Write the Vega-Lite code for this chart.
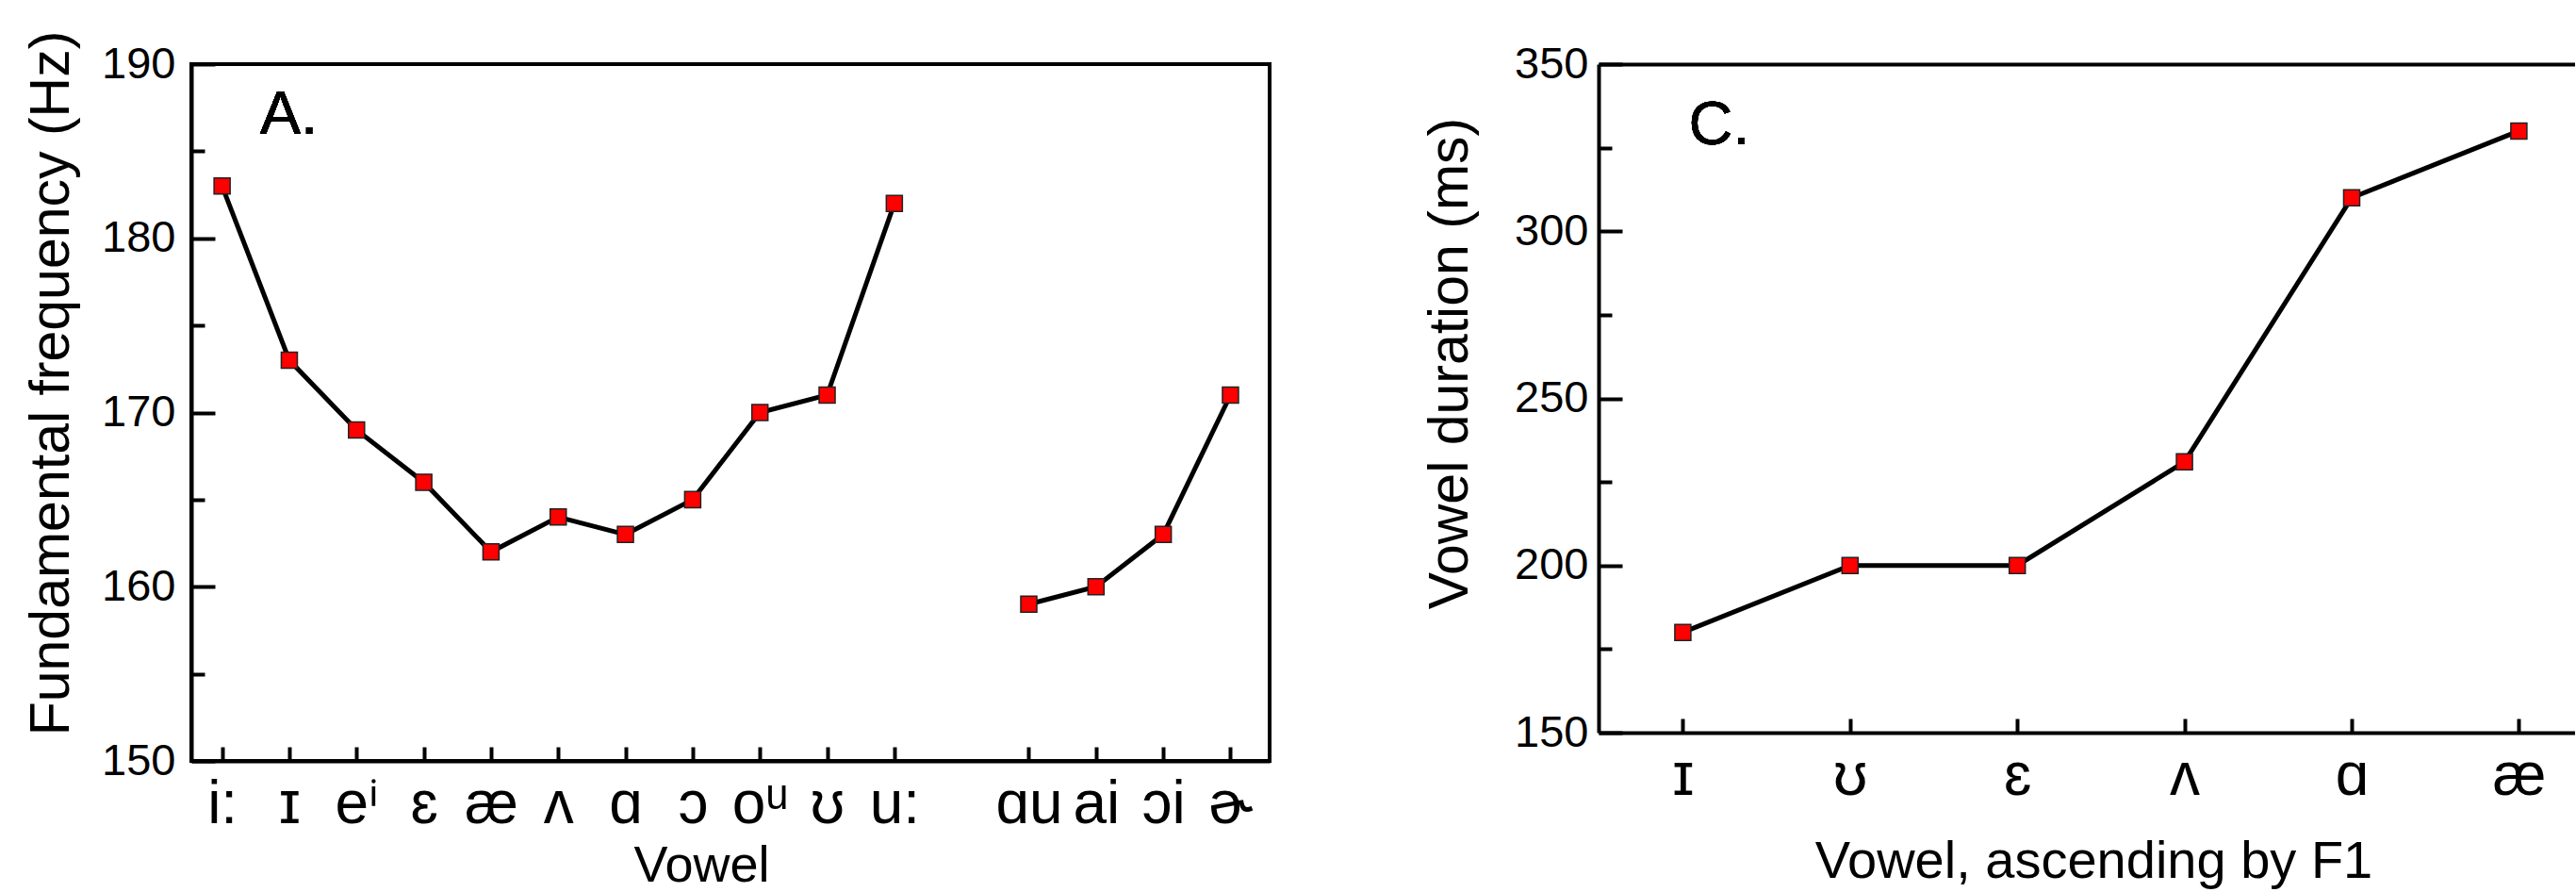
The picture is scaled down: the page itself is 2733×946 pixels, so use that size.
{
  "$schema": "https://vega.github.io/schema/vega-lite/v6.json",
  "background": "white",
  "padding": {"left": 22, "top": 30, "right": 0, "bottom": 0},
  "spacing": 160,
  "config": {
    "font": "Liberation Sans",
    "view": {"stroke": "black", "strokeWidth": 4},
    "axis": {
      "grid": false,
      "domainColor": "black",
      "domainWidth": 4,
      "tickColor": "black",
      "tickWidth": 4,
      "labelColor": "black",
      "titleColor": "black",
      "labelFont": "Liberation Sans",
      "titleFont": "Liberation Sans",
      "titleFontWeight": "normal"
    }
  },
  "datasets": {
    "pitch": [
      {"vowel": "i:", "set": "monophthong", "f0": 183},
      {"vowel": "ɪ", "set": "monophthong", "f0": 173},
      {"vowel": "eⁱ", "set": "monophthong", "f0": 169},
      {"vowel": "ɛ", "set": "monophthong", "f0": 166},
      {"vowel": "æ", "set": "monophthong", "f0": 162},
      {"vowel": "ʌ", "set": "monophthong", "f0": 164},
      {"vowel": "ɑ", "set": "monophthong", "f0": 163},
      {"vowel": "ɔ", "set": "monophthong", "f0": 165},
      {"vowel": "oᵘ", "set": "monophthong", "f0": 170},
      {"vowel": "ʊ", "set": "monophthong", "f0": 171},
      {"vowel": "u:", "set": "monophthong", "f0": 182},
      {"vowel": "ɑu", "set": "diphthong", "f0": 159},
      {"vowel": "ai", "set": "diphthong", "f0": 160},
      {"vowel": "ɔi", "set": "diphthong", "f0": 163},
      {"vowel": "ɚ", "set": "diphthong", "f0": 171}
    ],
    "duration": [
      {"vowel": "ɪ", "ms": 180},
      {"vowel": "ʊ", "ms": 200},
      {"vowel": "ɛ", "ms": 200},
      {"vowel": "ʌ", "ms": 231},
      {"vowel": "ɑ", "ms": 310},
      {"vowel": "æ", "ms": 330}
    ]
  },
  "hconcat": [
    {
      "width": 1144,
      "height": 739,
      "data": {"name": "pitch"},
      "layer": [
        {
          "mark": {"type": "line", "color": "black", "strokeWidth": 5},
          "encoding": {
            "x": {
              "field": "vowel",
              "type": "ordinal",
              "scale": {
                "type": "point",
                "domain": ["i:", "ɪ", "eⁱ", "ɛ", "æ", "ʌ", "ɑ", "ɔ", "oᵘ", "ʊ", "u:", " ", "ɑu", "ai", "ɔi", "ɚ"],
                "padding": 0.52,
                "align": 0.44
              },
              "axis": {
                "title": "Vowel",
                "values": ["i:", "ɪ", "eⁱ", "ɛ", "æ", "ʌ", "ɑ", "ɔ", "oᵘ", "ʊ", "u:", "ɑu", "ai", "ɔi", "ɚ"],
                "labelAngle": 0,
                "labelFontSize": 64,
                "tickSize": -15,
                "labelPadding": 29,
                "titleFontSize": 54,
                "titleBaseline": "alphabetic",
                "titleX": 541,
                "titleY": 127
              }
            },
            "y": {
              "field": "f0",
              "type": "quantitative",
              "scale": {"domain": [150, 190], "nice": false, "zero": false},
              "axis": {
                "title": "Fundamental frequency (Hz)",
                "values": [150, 155, 160, 165, 170, 175, 180, 185, 190],
                "labelExpr": "datum.value % 10 === 0 ? datum.label : ''",
                "tickSize": {"condition": {"test": "datum.value % 10 !== 0", "value": -14}, "value": -25},
                "labelPadding": 42,
                "labelFontSize": 47,
                "titleFontSize": 59,
                "titleBaseline": "alphabetic",
                "titleX": -131,
                "titleY": 338
              }
            },
            "detail": {"field": "set"},
            "order": {"value": null}
          }
        },
        {
          "mark": {"type": "point", "shape": "square", "filled": true, "fill": "red", "stroke": "#222222", "strokeWidth": 1.5, "size": 290, "opacity": 1},
          "encoding": {
            "x": {"field": "vowel", "type": "ordinal"},
            "y": {"field": "f0", "type": "quantitative"}
          }
        },
        {
          "mark": {"type": "text", "text": "A.", "fontSize": 65, "align": "left", "baseline": "alphabetic", "dx": 40, "color": "black"},
          "encoding": {
            "x": {"datum": "i:", "type": "ordinal"},
            "y": {"datum": 186, "type": "quantitative"}
          }
        }
      ]
    },
    {
      "width": 1036,
      "height": 709,
      "view": {"stroke": null},
      "data": {"name": "duration"},
      "resolve": {"axis": {"x": "independent"}},
      "layer": [
        {
          "mark": {"type": "line", "color": "black", "strokeWidth": 5},
          "encoding": {
            "x": {
              "field": "vowel",
              "type": "ordinal",
              "scale": {
                "type": "point",
                "domain": ["ɪ", "ʊ", "ɛ", "ʌ", "ɑ", "æ"],
                "padding": 0.42,
                "align": 0.6
              },
              "axis": {
                "title": "Vowel, ascending by F1",
                "labelAngle": 0,
                "labelFontSize": 64,
                "tickSize": -15,
                "labelPadding": 29,
                "titleFontSize": 56,
                "titleBaseline": "alphabetic",
                "titleX": 525,
                "titleY": 153
              }
            },
            "y": {
              "field": "ms",
              "type": "quantitative",
              "scale": {"domain": [150, 350], "nice": false, "zero": false},
              "axis": {
                "title": "Vowel duration (ms)",
                "values": [150, 175, 200, 225, 250, 275, 300, 325, 350],
                "labelExpr": "datum.value % 50 === 0 ? datum.label : ''",
                "tickSize": {"condition": {"test": "datum.value % 50 !== 0", "value": -14}, "value": -25},
                "labelPadding": 36,
                "labelFontSize": 47,
                "titleFontSize": 59,
                "titleBaseline": "alphabetic",
                "titleX": -140,
                "titleY": 317
              }
            },
            "order": {"value": null}
          }
        },
        {
          "mark": {"type": "point", "shape": "square", "filled": true, "fill": "red", "stroke": "#222222", "strokeWidth": 1.5, "size": 290, "opacity": 1},
          "encoding": {
            "x": {"field": "vowel", "type": "ordinal", "axis": null},
            "y": {"field": "ms", "type": "quantitative"}
          }
        },
        {
          "mark": {"type": "text", "text": "C.", "fontSize": 65, "align": "left", "baseline": "alphabetic", "dx": 6, "color": "black"},
          "encoding": {
            "x": {
              "datum": "ɪ",
              "type": "ordinal",
              "axis": {"orient": "top", "title": null, "labels": false, "ticks": false, "domain": true}
            },
            "y": {"datum": 326, "type": "quantitative"}
          }
        }
      ]
    }
  ]
}
